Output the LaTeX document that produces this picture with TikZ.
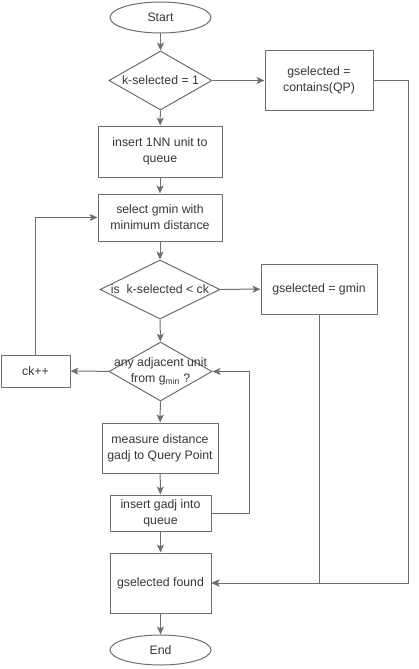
\documentclass[tikz,border=0pt]{standalone}
\usepackage{fontspec}
\setmainfont{Liberation Sans}
\usepackage{tikz}
\usetikzlibrary{
    positioning,
    arrows.meta,
    shapes.geometric
}
\definecolor{flowLine}{RGB}{110, 110, 110}
\definecolor{flowText}{RGB}{55, 55, 55}

\begin{document}
\begin{tikzpicture}[x=1pt, y=-1pt, >={Stealth[length=8pt, width=7pt, inset=2pt]},
    every node/.style={text=flowText, font=\fontsize{12.3}{16}\selectfont, align=center},
    proc/.style={draw=flowLine, line width=1pt, fill=white, inner sep=0pt},
    term/.style={ellipse, draw=flowLine, line width=1pt, fill=white, inner sep=0pt,
        minimum width=101pt, minimum height=31pt},
    decide/.style={diamond, draw=flowLine, line width=1pt, fill=white, inner sep=0pt},
    link/.style={->, draw=flowLine, line width=1pt}]
    \useasboundingbox (0,0) rectangle (418,669);

    % main column
    \node[term] (start) at (160.5,17.5) {Start};
    \node[decide, minimum width=103pt, minimum height=59pt,
        label={[text=flowText]center:k-selected = 1}] (firstK) at (160.5,80.5) {};
    \node[proc, minimum width=108pt, minimum height=59pt] (contains) at (319,80.5) {gselected =\\contains(QP)};
    \node[proc, minimum width=124pt, minimum height=51pt] (insertNN) at (160,151.5) {insert 1NN unit to\\queue};
    \node[proc, minimum width=124pt, minimum height=47pt] (selectMin) at (160,217.5) {select gmin with\\minimum distance};
    \node[decide, minimum width=120pt, minimum height=59pt,
        label={[text=flowText]center:is~~k-selected < ck}] (lessCk) at (160,289.5) {};
    \node[proc, minimum width=116pt, minimum height=50pt] (gminSel) at (319,289) {gselected = gmin};
    \node[decide, minimum width=103pt, minimum height=59pt,
        label={[text=flowText]center:any adjacent unit\\from g\textsubscript{min} ?}] (adjUnit) at (160.5,371.5) {};
    \node[proc, minimum width=69pt, minimum height=32pt] (ckInc) at (35.5,371) {ck++};
    \node[proc, minimum width=116pt, minimum height=50pt] (measure) at (160,448) {measure distance\\gadj to Query Point};
    \node[proc, minimum width=101pt, minimum height=36pt] (insertAdj) at (160.5,513) {insert gadj into\\queue};
    \node[proc, minimum width=101pt, minimum height=60pt] (found) at (160.5,583) {gselected found};
    \node[term, minimum height=30pt] (end) at (160.5,650) {End};

    \draw[link] (start) -- (firstK);
    \draw[link] (firstK) -- (contains);
    \draw[link] (firstK) -- (insertNN);
    \draw[link] (insertNN) -- (selectMin);
    \draw[link] (selectMin) -- (lessCk);
    \draw[link] (lessCk) -- (gminSel);
    \draw[link] (lessCk) -- (adjUnit);
    \draw[link] (adjUnit) -- (ckInc);
    \draw[link] (ckInc.north) |- (selectMin.west);
    \draw[link] (adjUnit) -- (measure);
    \draw[link] (measure) -- (insertAdj);
    \draw[link] (insertAdj.east) -- ++(38,0) |- (adjUnit.east);
    \draw[link] (insertAdj) -- (found);
    \draw[link] (found) -- (end);

    % back to the result box
    \draw[link] (contains.east) -- ++(35,0) |- (found.east);
    \draw[link] (gminSel.south) |- (found.east);
\end{tikzpicture}
\end{document}
